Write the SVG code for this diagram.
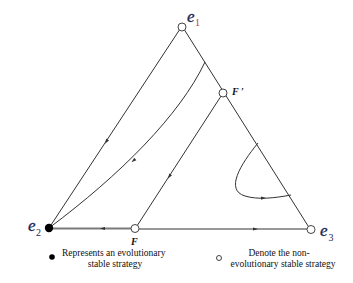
<svg xmlns="http://www.w3.org/2000/svg" width="353" height="283" viewBox="0 0 353 283">
<style>
.ln{fill:none;stroke:#333;stroke-width:1}
.gr{fill:none;stroke:#7a7a7a;stroke-width:2}
.open{fill:#fff;stroke:#444;stroke-width:1}
.lab{font-family:"Liberation Serif",serif;font-style:italic;fill:#1c2450;stroke:#1c2450;stroke-width:0.3}
.bf{font-family:"Liberation Serif",serif;font-style:italic;font-weight:bold;fill:#111}
.lg{font-family:"Liberation Serif",serif;font-size:9.5px;fill:#111}
.ah{fill:#333}
</style>
<defs>
<path id="ah" d="M-3,-1.6 L2,0 L-3,1.6 Z"/>
</defs>
<rect width="353" height="283" fill="#fff"/>
<g id="connectors">
<path class="ln" d="M182,26 L49,228"/>
<path class="ln" d="M182,26 L310,229"/>
<path class="gr" d="M49,228.5 L135,228.5"/>
<path class="ln" d="M135,229 L310,229"/>
<path class="ln" d="M205,62 C180,115 120,175 49,228"/>
<path class="ln" d="M223,93 L135,229"/>
<path class="ln" d="M258,143 C240,165 225,190 245,196 C258,200 275,198 291,195"/>
<use href="#ah" class="ah" transform="translate(106,142) rotate(123.4)"/>
<use href="#ah" class="ah" transform="translate(133,161) rotate(141)"/>
<use href="#ah" class="ah" transform="translate(169,177) rotate(122.9)"/>
<use href="#ah" class="ah" transform="translate(264,198) rotate(-3)"/>
<use href="#ah" class="ah" transform="translate(102,228.5) rotate(180)"/>
<use href="#ah" class="ah" transform="translate(256,229) rotate(0)"/>
</g>
<g id="e1">
<circle class="open" cx="182" cy="27" r="4"/>
<text class="lab" x="187" y="22" font-size="17">e</text>
<text x="195" y="26" font-family="Liberation Serif,serif" font-size="10" fill="#c0392b">1</text>
</g>
<g id="e2">
<circle cx="49" cy="228" r="4.2" fill="#000"/>
<text class="lab" x="28" y="231" font-size="17">e</text>
<text x="36" y="236" font-family="Liberation Serif,serif" font-size="10" fill="#1c2450">2</text>
</g>
<g id="e3">
<circle class="open" cx="311" cy="229.5" r="4"/>
<text class="lab" x="320" y="236" font-size="17">e</text>
<text x="328.5" y="241" font-family="Liberation Serif,serif" font-size="10" fill="#1c2450">3</text>
</g>
<g id="F">
<circle class="open" cx="135" cy="228.5" r="4"/>
<text class="bf" x="131" y="245" font-size="10">F</text>
</g>
<g id="Fprime">
<circle class="open" cx="223" cy="93" r="4"/>
<text class="bf" x="232" y="95" font-size="10">F ′</text>
</g>
<g id="legend">
<circle cx="52" cy="257" r="2.8" fill="#000"/>
<text class="lg" x="62" y="256">Represents an evolutionary</text>
<text class="lg" x="115" y="267" text-anchor="middle">stable strategy</text>
<circle class="open" cx="219" cy="258" r="2.5"/>
<text class="lg" x="279" y="256" text-anchor="middle">Denote the non-</text>
<text class="lg" x="283" y="267" text-anchor="middle">evolutionary stable strategy</text>
</g>
</svg>
